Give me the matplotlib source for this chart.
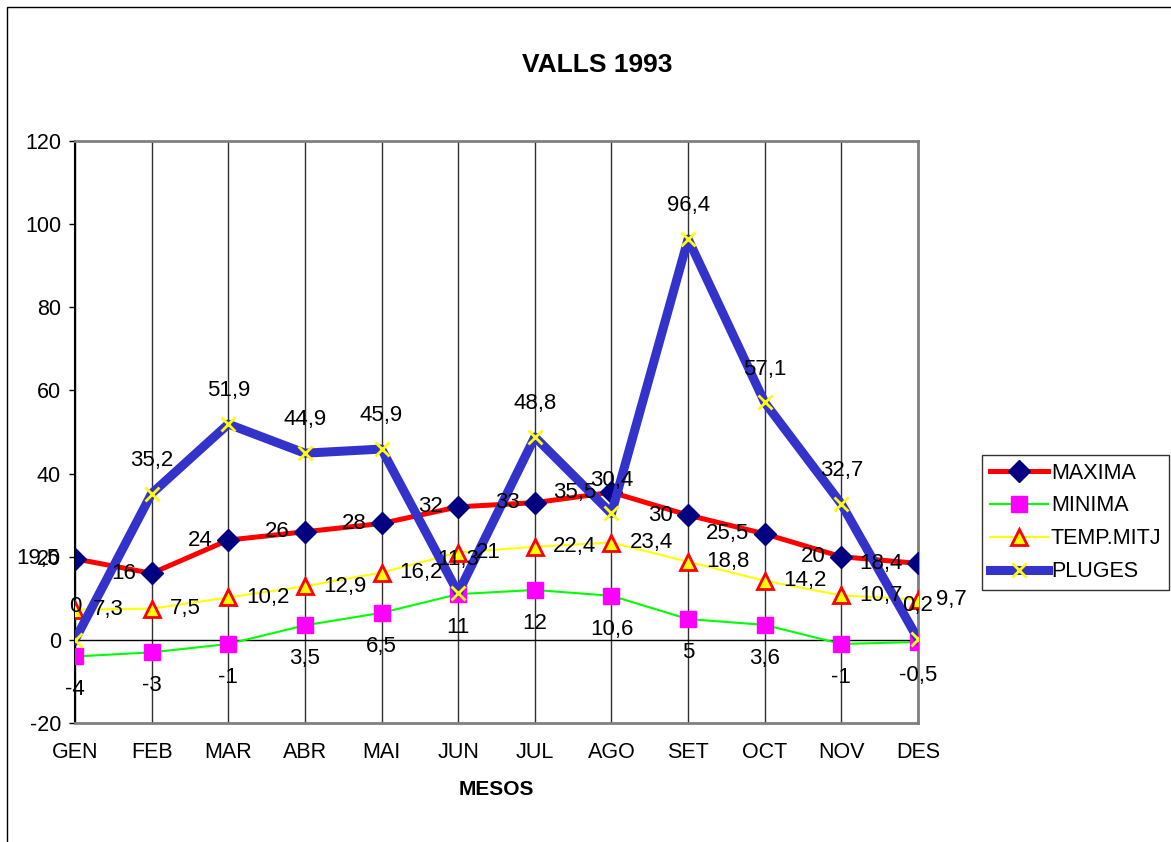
import matplotlib
matplotlib.use('Agg')
import matplotlib.pyplot as plt
from matplotlib.patches import Rectangle

plt.rcParams['font.family'] = ['Liberation Sans', 'DejaVu Sans']
plt.rcParams['axes.unicode_minus'] = False

months = ["GEN", "FEB", "MAR", "ABR", "MAI", "JUN", "JUL", "AGO", "SET", "OCT", "NOV", "DES"]
maxima = [19.5, 16, 24, 26, 28, 32, 33, 35.5, 30, 25.5, 20, 18.4]
minima = [-4, -3, -1, 3.5, 6.5, 11, 12, 10.6, 5, 3.6, -1, -0.5]
temp_mitj = [7.3, 7.5, 10.2, 12.9, 16.2, 21, 22.4, 23.4, 18.8, 14.2, 10.7, 9.7]
pluges = [0, 35.2, 51.9, 44.9, 45.9, 11.3, 48.8, 30.4, 96.4, 57.1, 32.7, 0.2]


def fmt(v):
    s = ("%g" % v).replace(".", ",")
    return s


W, H = 1171, 842
fig = plt.figure(figsize=(W / 100, H / 100), dpi=100)
ax = fig.add_axes([75 / W, 1 - 723 / H, (918 - 75) / W, (723 - 141) / H])

x = list(range(len(months)))

l1, = ax.plot(x, maxima, color='red', lw=3.6, marker='D', ms=11,
              mfc='#000080', mec='#000080', label='MAXIMA', zorder=3)
l2, = ax.plot(x, minima, color='#00ff00', lw=1.5, marker='s', ms=11.5,
              mfc='#ff00ff', mec='#ff00ff', label='MINIMA', zorder=4)
l3, = ax.plot(x, temp_mitj, color='#ffff00', lw=1.5, marker='^', ms=11,
              mfc='#ffff00', mec='red', mew=2, label='TEMP.MITJ', zorder=5)
l4, = ax.plot(x, pluges, color='#3333cc', lw=6.5, marker='x', ms=10,
              mec='#ffff00', mew=2, label='PLUGES', zorder=6)

# data labels
fs = 16
for i in x:
    ax.annotate(fmt(maxima[i]), (i, maxima[i]), xytext=(-11, 0), textcoords='offset points',
                ha='right', va='center', fontsize=fs, zorder=10)
    ax.annotate(fmt(minima[i]), (i, minima[i]), xytext=(0, -24), textcoords='offset points',
                ha='center', va='center', fontsize=fs, zorder=10)
    ax.annotate(fmt(temp_mitj[i]), (i, temp_mitj[i]), xytext=(13, 0), textcoords='offset points',
                ha='left', va='center', fontsize=fs, zorder=10)
    ax.annotate(fmt(pluges[i]), (i, pluges[i]), xytext=(0, 24), textcoords='offset points',
                ha='center', va='center', fontsize=fs, zorder=10)

ax.set_xlim(0, 11)
ax.set_ylim(-20, 120)
ax.set_yticks(range(-20, 121, 20))
ax.set_xticks(x)
ax.set_xticklabels(months)
ax.tick_params(axis='x', length=0, pad=14, labelsize=15.5)
ax.tick_params(axis='y', length=4, width=1, pad=6, labelsize=15.5)
ax.grid(axis='x', color='#303030', lw=1)
ax.axhline(0, color='black', lw=1, zorder=2)
for s in ['top', 'right', 'bottom']:
    ax.spines[s].set_color('#808080')
    ax.spines[s].set_linewidth(2)
ax.spines['left'].set_color('black')
ax.spines['left'].set_linewidth(1.5)
ax.set_xlabel("MESOS", fontsize=15, fontweight='bold', labelpad=12)

fig.text(0.51, 1 - 65 / H, "VALLS 1993", ha='center', va='center', fontsize=19, fontweight='bold')

leg = fig.legend(handles=[l1, l2, l3, l4], loc='upper left',
                 bbox_to_anchor=(982 / W, 1 - 455 / H), bbox_transform=fig.transFigure,
                 fontsize=15.5, frameon=True, fancybox=False, borderaxespad=0,
                 handlelength=2.7, handletextpad=0.15, labelspacing=0.55,
                 borderpad=0.35)
leg.get_frame().set_edgecolor('black')
leg.get_frame().set_linewidth(1)

fig.patches.append(Rectangle((7 / W, -0.1), 1.2, 1.1 - 7 / H, transform=fig.transFigure,
                             fill=False, edgecolor='black', lw=1))

fig.savefig("out.png", dpi=100)
